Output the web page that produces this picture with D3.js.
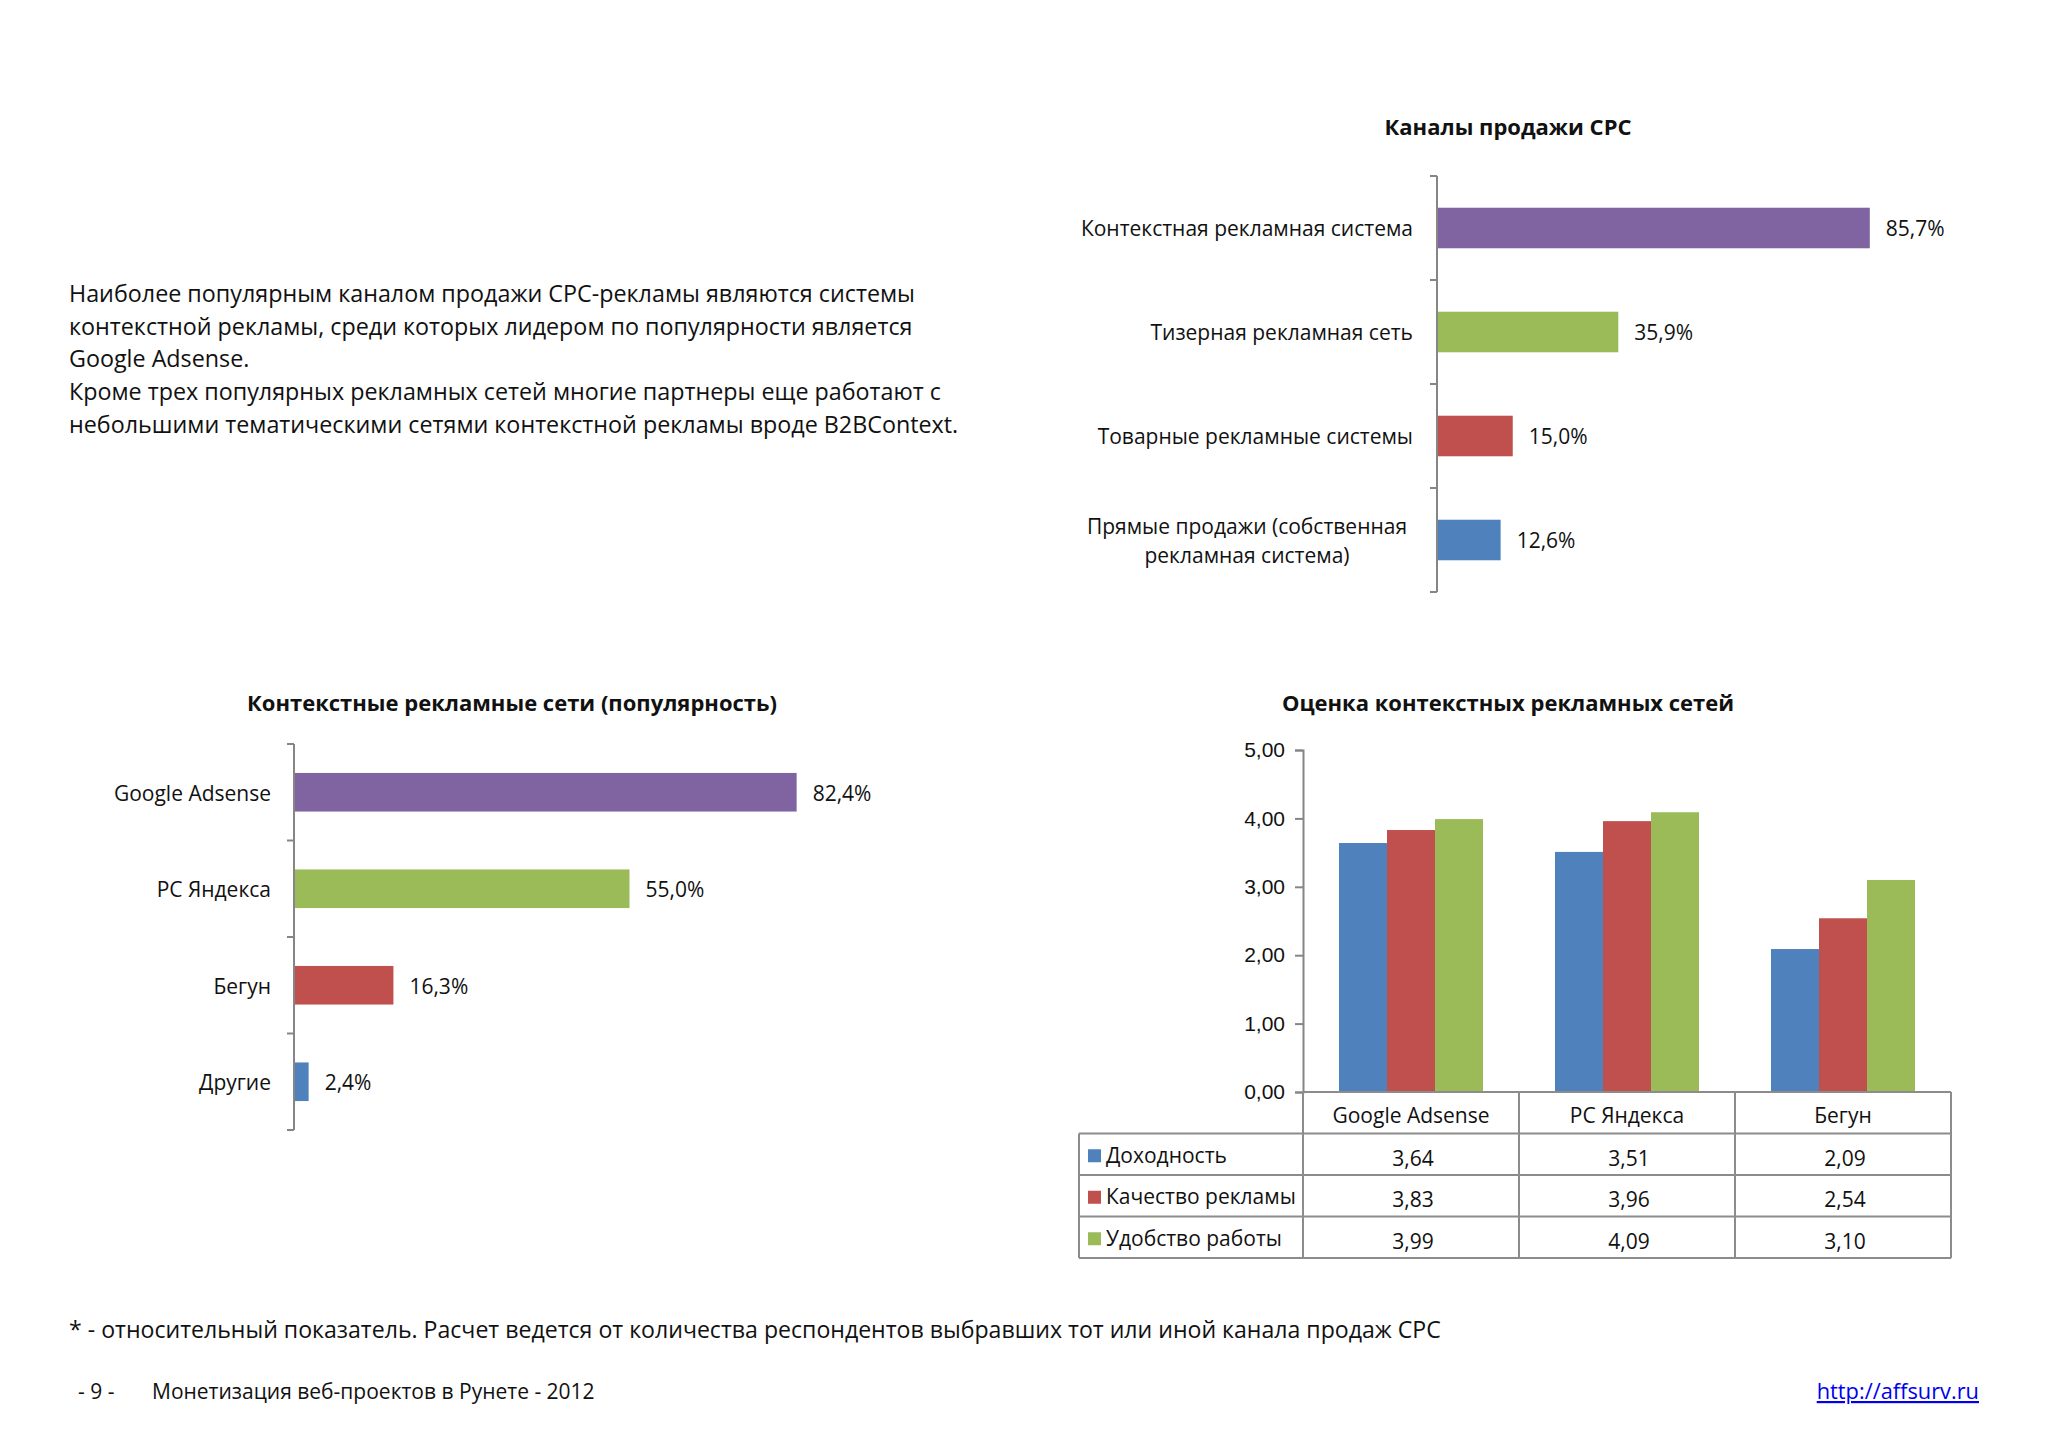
<!DOCTYPE html>
<html lang="ru">
<head>
<meta charset="UTF-8" />
<title>Каналы продажи CPC</title>
<script src="https://d3js.org/d3.v7.min.js"></script>
<style>
  body { margin: 0; background: #fff; }
  svg { font-family: "Open Sans", "Noto Sans", Arial, sans-serif; fill: #111; }
  .title { font-weight: bold; font-size: 22px; text-anchor: middle; }
  .lbl { font-size: 21px; }
  .body-text { font-size: 23.3px; }
  .axis-line { stroke: #868686; stroke-width: 2; }
  .grid-line { stroke: #8c8c8c; stroke-width: 2; fill: none; }
</style>
</head>
<body>
<svg width="2048" height="1448"></svg>
<script>
  // --- данные ---
  const channelCats = ["Контекстная рекламная система", "Тизерная рекламная сеть", "Товарные рекламные системы", "Прямые продажи (собственная рекламная система)"];
  const channelVals = [85.7, 35.9, 15.0, 12.6];
  const channelColors = ["#8064A2", "#9BBB59", "#C0504D", "#4F81BD"];

  const netCats = ["Google Adsense", "РС Яндекса", "Бегун", "Другие"];
  const netVals = [82.4, 55.0, 16.3, 2.4];
  const netColors = ["#8064A2", "#9BBB59", "#C0504D", "#4F81BD"];

  const scoreCats = ["Google Adsense", "РС Яндекса", "Бегун"];
  const scoreSeries = ["Доходность", "Качество рекламы", "Удобство работы"];
  const scoreColors = ["#4F81BD", "#C0504D", "#9BBB59"];
  const scoreVals = [
    [3.64, 3.51, 2.09],
    [3.83, 3.96, 2.54],
    [3.99, 4.09, 3.10]
  ];
  const scoreTicks = [0, 1, 2, 3, 4, 5];

  const svg = d3.select("svg");
  const fmtPct = d => d.toFixed(1).replace(".", ",") + "%";
  const fmt2 = d => d.toFixed(2).replace(".", ",");

  // --- текст слева ---
  const paragraph = [
    "Наиболее популярным каналом продажи CPC-рекламы являются системы",
    "контекстной рекламы, среди которых лидером по популярности является",
    "Google Adsense.",
    "Кроме трех популярных рекламных сетей многие партнеры еще работают с",
    "небольшими тематическими сетями контекстной рекламы вроде B2BContext."
  ];
  svg.selectAll("text.body-text")
    .data(paragraph)
    .enter()
    .append("text")
    .attr("class", "body-text")
    .attr("x", 69)
    .attr("y", (d, i) => 302 + i * 32.7)
    .text(d => d);

  // горизонтальная столбчатая диаграмма
  function hbar(opts) {
    const g = svg.append("g");
    const y = d3.scaleBand().domain(opts.cats).range(opts.yRange)
      .paddingInner(opts.pad).paddingOuter(opts.pad / 2);
    const x = d3.scaleLinear().domain([0, 100]).range(opts.xRange);
    const x0 = opts.xRange[0];

    g.append("text").attr("class", "title")
      .attr("x", opts.titleX).attr("y", opts.titleY).text(opts.title);

    g.selectAll("rect").data(opts.vals).enter().append("rect")
      .attr("x", x0)
      .attr("y", (d, i) => y(opts.cats[i]))
      .attr("width", d => x(d) - x0)
      .attr("height", y.bandwidth())
      .attr("fill", (d, i) => opts.colors[i]);

    g.selectAll("text.val").data(opts.vals).enter().append("text")
      .attr("class", "lbl val")
      .attr("x", d => x(d) + 16)
      .attr("y", (d, i) => y(opts.cats[i]) + y.bandwidth() / 2 + 1)
      .attr("dy", "0.35em")
      .text(fmtPct);

    // ось
    g.append("line").attr("class", "axis-line")
      .attr("x1", x0).attr("x2", x0)
      .attr("y1", opts.yRange[0]).attr("y2", opts.yRange[1]);
    const bounds = opts.cats.map(c => y(c) - y.step() * y.paddingInner() / 2).concat([opts.yRange[1]]);
    g.selectAll("line.tk").data(bounds).enter().append("line")
      .attr("class", "axis-line")
      .attr("x1", x0 - 7).attr("x2", x0)
      .attr("y1", d => d).attr("y2", d => d);

    opts.cats.forEach((c, i) => {
      const cy = y(c) + y.bandwidth() / 2 + 1;
      const lines = opts.wrap && opts.wrap[i];
      if (lines) {
        lines.forEach((ln, j) => {
          g.append("text").attr("class", "lbl")
            .attr("x", opts.wrapCenter).attr("y", cy + (j - (lines.length - 1) / 2) * 29)
            .attr("dy", "0.35em").attr("text-anchor", "middle").text(ln);
        });
      } else {
        g.append("text").attr("class", "lbl")
          .attr("x", opts.labelX).attr("y", cy)
          .attr("dy", "0.35em").attr("text-anchor", "end").text(c);
      }
    });
  }

  hbar({
    cats: channelCats, vals: channelVals, colors: channelColors,
    yRange: [176, 592], xRange: [1437, 1942], pad: 0.61,
    title: "Каналы продажи CPC", titleX: 1508, titleY: 135,
    labelX: 1413, wrapCenter: 1247,
    wrap: [null, null, null, ["Прямые продажи (собственная", "рекламная система)"]]
  });

  hbar({
    cats: netCats, vals: netVals, colors: netColors,
    yRange: [744, 1130], xRange: [294, 904], pad: 0.6,
    title: "Контекстные рекламные сети (популярность)", titleX: 512, titleY: 711,
    labelX: 271
  });

  // --- Оценка контекстных рекламных сетей ---
  const g3 = svg.append("g");
  const plotL = 1303, plotR = 1951, plotT = 750, plotB = 1092;
  const rowH = 41.5, tableL = 1079;
  const xc = d3.scaleBand().domain(scoreCats).range([plotL, plotR]);
  const xs = d3.scaleBand().domain(scoreSeries).range([0, xc.bandwidth()]).paddingOuter(0.75);
  const ys = d3.scaleLinear().domain([0, 5]).range([plotB, plotT]);

  g3.append("text").attr("class", "title")
    .attr("x", 1508).attr("y", 711).text("Оценка контекстных рекламных сетей");

  scoreSeries.forEach((s, si) => {
    g3.selectAll("rect.s" + si).data(scoreVals[si]).enter().append("rect")
      .attr("x", (d, ci) => xc(scoreCats[ci]) + xs(s))
      .attr("y", d => ys(d))
      .attr("width", xs.bandwidth())
      .attr("height", d => plotB - ys(d))
      .attr("fill", scoreColors[si]);
  });

  const yAxis = d3.axisLeft(ys).tickValues(scoreTicks).tickFormat(fmt2).tickSize(8).tickPadding(10);
  const ax = g3.append("g").attr("transform", `translate(${plotL},0)`).call(yAxis);
  ax.select(".domain").attr("stroke", "#868686").attr("stroke-width", 2);
  ax.selectAll(".tick line").attr("stroke", "#868686").attr("stroke-width", 2);
  ax.selectAll(".tick text").attr("class", "lbl").attr("fill", "#111")
    .style("font-family", "inherit");

  // таблица данных
  const tableB = plotB + rowH * 4;
  g3.append("line").attr("class", "grid-line")
    .attr("x1", plotL).attr("x2", plotR).attr("y1", plotB).attr("y2", plotB);
  [plotL, ...scoreCats.map(c => xc(c) + xc.bandwidth())].forEach(xv => {
    g3.append("line").attr("class", "grid-line")
      .attr("x1", xv).attr("x2", xv).attr("y1", plotB).attr("y2", tableB);
  });
  d3.range(1, 5).forEach(r => {
    g3.append("line").attr("class", "grid-line")
      .attr("x1", tableL).attr("x2", plotR)
      .attr("y1", plotB + r * rowH).attr("y2", plotB + r * rowH);
  });
  g3.append("line").attr("class", "grid-line")
    .attr("x1", tableL).attr("x2", tableL).attr("y1", plotB + rowH).attr("y2", tableB);

  g3.selectAll("text.cat").data(scoreCats).enter().append("text")
    .attr("class", "lbl cat")
    .attr("x", d => xc(d) + xc.bandwidth() / 2)
    .attr("y", plotB + rowH / 2 + 3).attr("dy", "0.35em")
    .attr("text-anchor", "middle").text(d => d);

  scoreSeries.forEach((s, si) => {
    const cy = plotB + rowH * (si + 1) + rowH / 2 + 2;
    g3.append("rect").attr("x", tableL + 9).attr("y", cy - 7)
      .attr("width", 13).attr("height", 13).attr("fill", scoreColors[si]);
    g3.append("text").attr("class", "lbl")
      .attr("x", tableL + 27).attr("y", cy).attr("dy", "0.3em").text(s);
    g3.selectAll("text.v" + si).data(scoreVals[si]).enter().append("text")
      .attr("class", "lbl")
      .attr("x", (d, ci) => xc(scoreCats[ci]) + xc.bandwidth() / 2 + 2)
      .attr("y", cy + 2).attr("dy", "0.35em")
      .attr("text-anchor", "middle").text(fmt2);
  });

  // --- сноска и колонтитул ---
  svg.append("text").style("font-size", "23.1px")
    .attr("x", 69).attr("y", 1338)
    .text("* - относительный показатель. Расчет ведется от количества респондентов выбравших тот или иной канала продаж CPC");
  svg.append("text").style("font-size", "21px")
    .attr("x", 78).attr("y", 1399).text("- 9 -");
  svg.append("text").style("font-size", "21px")
    .attr("x", 152).attr("y", 1399).text("Монетизация веб-проектов в Рунете - 2012");
  svg.append("text").style("font-size", "21.8px").attr("fill", "#0000EE")
    .attr("text-anchor", "end").attr("text-decoration", "underline")
    .attr("x", 1979).attr("y", 1399).text("http://affsurv.ru");
</script>
</body>
</html>
